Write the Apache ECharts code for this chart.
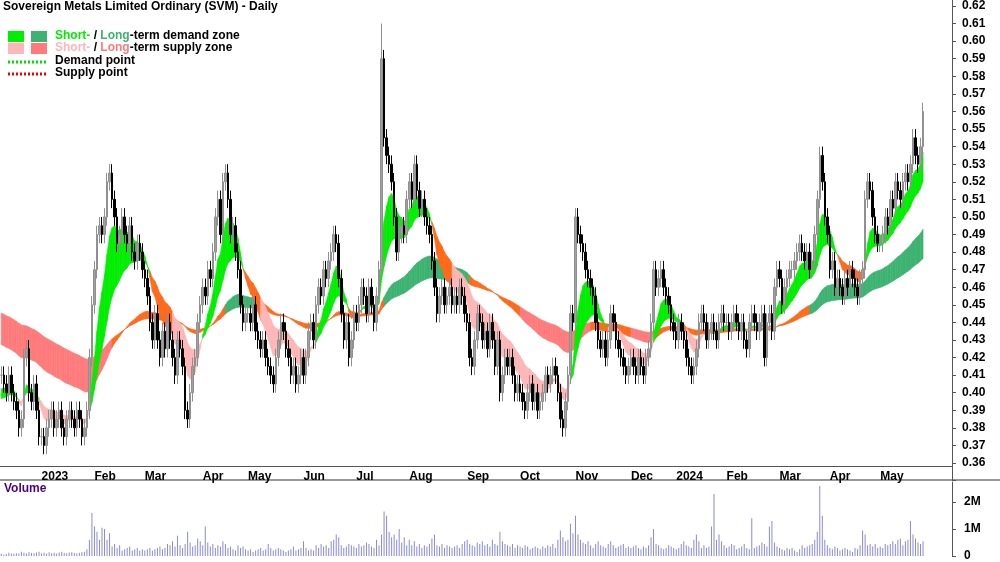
<!DOCTYPE html>
<html><head><meta charset="utf-8">
<script src="https://cdn.jsdelivr.net/npm/echarts@6/dist/echarts.min.js"></script>
<style>html,body{margin:0;padding:0;background:#fff}#c{width:1000px;height:562px}</style>
</head><body><div id="c"></div>
<script>
const monthNames=['','2023','Feb','Mar','Apr','May','Jun','Jul','Aug','Sep','Oct','Nov','Dec','2024','Feb','Mar','Apr','May'];
const closeByMonth=[
[0.41,0.405,0.40,0.41,0.40,0.395,0.39,0.38,0.385,0.42,0.425,0.40,0.395,0.405,0.39,0.375],
[0.375,0.37,0.38,0.385,0.39,0.38,0.385,0.39,0.38,0.375,0.385,0.39,0.385,0.38,0.39,0.385,0.375,0.38,0.39,0.42,0.45],
[0.47,0.49,0.495,0.49,0.50,0.52,0.525,0.51,0.50,0.485,0.49,0.50,0.49,0.485,0.495,0.48,0.475,0.485,0.48,0.47],
[0.465,0.455,0.44,0.43,0.445,0.43,0.42,0.435,0.425,0.44,0.43,0.42,0.41,0.43,0.425,0.415,0.39,0.385,0.40,0.415,0.42,0.44,0.45],
[0.46,0.455,0.47,0.465,0.48,0.50,0.51,0.49,0.52,0.525,0.51,0.49,0.495,0.48,0.47,0.45,0.44,0.445],
[0.445,0.44,0.45,0.435,0.43,0.425,0.43,0.42,0.415,0.41,0.405,0.42,0.43,0.44,0.435,0.425,0.42,0.41,0.415,0.405,0.41,0.42],
[0.41,0.42,0.435,0.44,0.43,0.45,0.46,0.455,0.47,0.465,0.475,0.48,0.49,0.485,0.465,0.445,0.43,0.44,0.42,0.43,0.445],
[0.44,0.45,0.46,0.455,0.445,0.46,0.45,0.44,0.455,0.47,0.59,0.545,0.535,0.53,0.52,0.50,0.48,0.49,0.495,0.49,0.51],
[0.52,0.51,0.53,0.515,0.505,0.51,0.50,0.495,0.49,0.475,0.46,0.445,0.455,0.46,0.45,0.455,0.46,0.45,0.455,0.45,0.46,0.455,0.445],
[0.44,0.42,0.415,0.43,0.445,0.44,0.43,0.435,0.425,0.44,0.43,0.415,0.43,0.40,0.41,0.42,0.415,0.42,0.41,0.40,0.405],
[0.40,0.395,0.39,0.40,0.405,0.395,0.40,0.39,0.395,0.40,0.41,0.405,0.41,0.415,0.41,0.40,0.385,0.38,0.395,0.41,0.445,0.44],
[0.50,0.49,0.485,0.48,0.47,0.465,0.46,0.455,0.44,0.43,0.425,0.43,0.42,0.43,0.445,0.44,0.43,0.425,0.42,0.415,0.41,0.415],
[0.42,0.415,0.41,0.42,0.415,0.41,0.42,0.425,0.44,0.47,0.46,0.465,0.47,0.46,0.455,0.45,0.44,0.435],
[0.43,0.44,0.435,0.43,0.42,0.415,0.41,0.415,0.425,0.44,0.445,0.44,0.43,0.435,0.44,0.435,0.43,0.44,0.445,0.44],
[0.44,0.435,0.44,0.445,0.44,0.435,0.44,0.43,0.425,0.44,0.445,0.44,0.435,0.44,0.445,0.42,0.44,0.445,0.435,0.46,0.47],
[0.465,0.45,0.46,0.465,0.47,0.47,0.475,0.48,0.485,0.48,0.475,0.48,0.47,0.475,0.49,0.51,0.535,0.52,0.50,0.49],
[0.47,0.475,0.46,0.465,0.46,0.455,0.465,0.46,0.47,0.465,0.46,0.455,0.465,0.47,0.51,0.52,0.515,0.50,0.49,0.485],
[0.485,0.49,0.50,0.495,0.51,0.505,0.52,0.515,0.51,0.52,0.525,0.52,0.53,0.545,0.535,0.53,0.54,0.56]];
const volByMonth=[ // in 10k shares
[8,5,7,12,9,8,10,9,16,12,9,14,11,10,13,16],
[9,12,8,14,10,12,9,13,16,11,10,13,14,11,9,12,14,16,25,60,160],
[110,90,60,105,100,60,85,35,45,30,40,20,25,30,35,20,25,30,20,25],
[20,25,30,20,25,30,35,25,30,45,40,55,35,75,40,30,45,90,50,35,40,65,55],
[40,110,50,35,45,30,40,35,55,45,30,35,25,20,40,30,35,25],
[20,25,15,20,25,30,20,25,45,30,20,25,30,25,20,15,20,25,35,20,25,30],
[55,30,20,25,20,40,30,45,35,40,30,55,60,80,70,40,30,35,45,40,35],
[30,45,35,40,50,45,35,30,60,40,80,165,150,90,70,80,60,100,50,70,40],
[60,40,55,35,45,30,40,35,45,65,80,40,35,45,30,40,35,30,35,40,30,45,55],
[60,45,40,35,50,45,55,40,45,35,60,45,40,90,55,45,40,35,45,30,40],
[35,30,40,35,25,30,35,30,25,35,30,40,35,45,30,60,95,70,55,60,120,85],
[150,80,60,50,45,55,40,30,45,55,40,35,30,45,55,40,30,35,40,45,30,35],
[30,35,40,30,25,35,30,40,70,100,45,40,30,25,30,40,35,30],
[25,30,45,55,40,35,30,60,80,55,30,40,30,35,110,230,60,80,55,40],
[30,35,45,40,25,30,35,45,30,25,140,30,35,40,50,45,35,110,130,50,35],
[30,25,20,30,25,30,20,15,25,40,30,35,40,45,60,90,260,150,60,40],
[30,25,35,30,20,25,30,25,20,15,30,25,40,95,80,40,45,35,45,30],
[35,30,45,40,45,55,45,60,65,40,55,60,130,80,65,50,45,55]];
const spikeHigh={151:0.61};
const yTicks=[0.36,0.62];

const cats=[],closes=[],vols=[];
closeByMonth.forEach((m,mi)=>m.forEach((c,j)=>{cats.push(j===0?monthNames[mi]:'');closes.push(c);vols.push(((volByMonth[mi][j])||0)/100);}));
const N=closes.length, PAD=11;
for(let k=0;k<PAD;k++)cats.push('');
const candles=closes.map((c,i)=>{const o=i?closes[i-1]:c;let h=Math.max(o,c)+0.005,l=Math.min(o,c)-0.005;if(spikeHigh[i])h=spikeHigh[i];return [o,c,l,h];});
function ema(n,seed){const a=2/(n+1);let e=seed;return closes.map(c=>(e=e+a*(c-e)));}
const sF=ema(8,0.40),sS=ema(20,0.395),lF=ema(60,0.428),lS=ema(110,0.446);
const C={g:'#00ee00',dg:'#3cb371',p:'#ffb6b6',r:'#ff7b7b',o:'#ff6a1a'};
const bandS=[],bandL=[];
for(let i=0;i<N-1;i++){
  const sUp=sF[i]>sS[i];
  const sMid=(sF[i]+sS[i])/2,lMid=(lF[i]+lS[i])/2,lw=lF[i]-lS[i];
  let cs=sUp?C.g:(sMid>lMid?C.o:C.p);
  let cl=lw>0.005?C.dg:(lw<-0.005?C.r:C.o);
  bandS.push([i,sF[i],sS[i],sF[i+1],sS[i+1],cs]);
  bandL.push([i,lF[i],lS[i],lF[i+1],lS[i+1],cl]);
}
function mk(arr){return {type:'custom',xAxisIndex:0,yAxisIndex:0,silent:true,clip:true,data:arr,
  renderItem:(p,api)=>{const i=api.value(0);const it=arr[p.dataIndex];
   const a=api.coord([i,it[1]]),b=api.coord([i,it[2]]),c=api.coord([i+1,it[3]]),d=api.coord([i+1,it[4]]);
   return {type:'polygon',shape:{points:[a,c,d,b]},style:{fill:it[5],stroke:it[5],lineWidth:0.6}};}};}
const chart=echarts.init(document.getElementById('c'));
const lbl={fontFamily:'Liberation Sans, Arial',fontWeight:'bold',fontSize:12,color:'#000'};
const showIdx=(i,v)=>v!=='';
chart.setOption({animation:false,
 grid:[{left:0,right:48,top:0,height:480.6},{left:0,right:48,top:482,height:76}],
 xAxis:[{type:'category',data:cats,gridIndex:0,offset:-14,boundaryGap:true,
   axisLine:{lineStyle:{color:'#555'}},axisTick:{interval:showIdx,length:4,lineStyle:{color:'#555'}},
   axisLabel:Object.assign({interval:showIdx,align:'left',margin:4},lbl),splitLine:{show:false}},
  {type:'category',data:cats,gridIndex:1,axisLine:{show:false},axisTick:{show:false},axisLabel:{show:false}}],
 yAxis:[{type:'value',gridIndex:0,position:'right',min:0.35,max:0.6234,interval:0.01,
   axisLine:{show:true,lineStyle:{color:'#555'}},axisTick:{show:true,length:4,lineStyle:{color:'#555'}},splitLine:{show:false},
   axisLabel:Object.assign({margin:10,showMaxLabel:false,formatter:v=>(v<yTicks[0]-1e-6||v>yTicks[1]+1e-6)?'':v.toFixed(2)},lbl)},
  {type:'value',gridIndex:1,position:'right',min:0,max:2.75,interval:1,
   axisLine:{show:true,lineStyle:{color:'#555'}},axisTick:{show:true,length:4,lineStyle:{color:'#555'}},splitLine:{show:false},
   axisLabel:Object.assign({margin:12,showMaxLabel:false,formatter:v=>v===0?'0':(Number.isInteger(v)?v+'M':'')},lbl)}],
 series:[mk(bandL),mk(bandS),
  {type:'candlestick',xAxisIndex:0,yAxisIndex:0,data:candles,barWidth:2,
   itemStyle:{color:'#a0a0a0',color0:'#000',borderColor:'#909090',borderColor0:'#000',borderWidth:1}},
  {type:'bar',xAxisIndex:1,yAxisIndex:1,data:vols,barWidth:1,itemStyle:{color:'#8a8ad8'}}],
 graphic:[
  {type:'text',left:3,top:1,style:{text:'Sovereign Metals Limited Ordinary (SVM) - Daily',font:'bold 12px Liberation Sans',fill:'#000'}},
  {type:'rect',shape:{x:8,y:31,width:16,height:11},style:{fill:C.g}},
  {type:'rect',shape:{x:31,y:31,width:16,height:11},style:{fill:C.dg}},
  {type:'rect',shape:{x:8,y:43,width:16,height:11},style:{fill:C.p}},
  {type:'rect',shape:{x:31,y:43,width:16,height:11},style:{fill:C.r}},
  {type:'text',left:55,top:30,style:{rich:{g:{fill:C.g,font:'bold 12px Liberation Sans'},d:{fill:C.dg,font:'bold 12px Liberation Sans'},k:{fill:'#000',font:'bold 12px Liberation Sans'}},text:'{g|Short-}{k| / }{d|Long}{k|-term demand zone}'}},
  {type:'text',left:55,top:42,style:{rich:{g:{fill:C.p,font:'bold 12px Liberation Sans'},d:{fill:C.r,font:'bold 12px Liberation Sans'},k:{fill:'#000',font:'bold 12px Liberation Sans'}},text:'{g|Short-}{k| / }{d|Long}{k|-term supply zone}'}},
  {type:'line',shape:{x1:8,y1:62,x2:46,y2:62},style:{stroke:'#00dd00',lineWidth:3,lineDash:[2,2]}},
  {type:'line',shape:{x1:8,y1:74,x2:46,y2:74},style:{stroke:'#ee0000',lineWidth:3,lineDash:[2,2]}},
  {type:'text',left:55,top:55,style:{text:'Demand point',font:'bold 12px Liberation Sans',fill:'#000'}},
  {type:'text',left:55,top:67,style:{text:'Supply point',font:'bold 12px Liberation Sans',fill:'#000'}},
  {type:'rect',shape:{x:0,y:479,width:1000,height:2},style:{fill:'#999'}},
  {type:'text',left:4,top:483,style:{text:'Volume',font:'bold 12px Liberation Sans',fill:'#4b0082'}}
 ]});
</script></body></html>
